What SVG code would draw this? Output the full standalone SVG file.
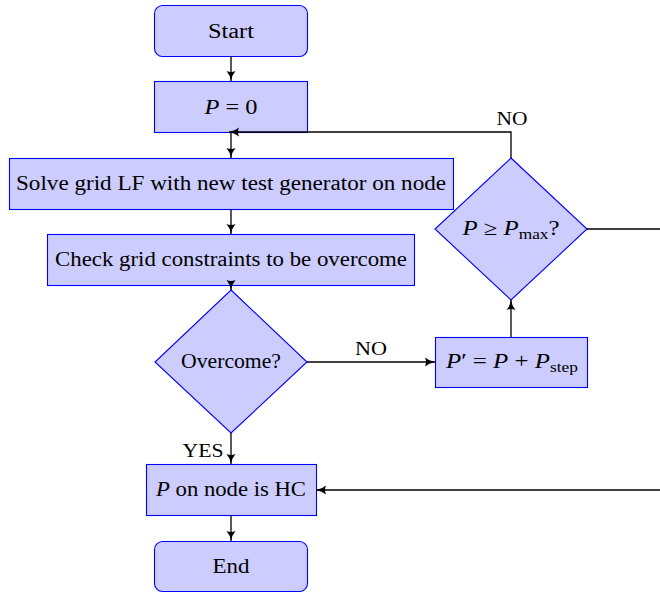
<svg xmlns="http://www.w3.org/2000/svg" width="660" height="594" viewBox="0 0 660 594">
<defs>
<style>
.n{fill:#ccccff;stroke:#0000ff;stroke-width:1.1}
.t{font-family:"Liberation Serif","DejaVu Serif",serif;font-size:20px;fill:#000;text-anchor:middle}
.i{font-style:italic}
.s{font-size:14px}
.c{fill:none;stroke:#000;stroke-width:1.3}
.l{font-family:"Liberation Serif","DejaVu Serif",serif;font-size:19px;fill:#000;text-anchor:middle}
</style>
<marker id="a" viewBox="0 0 10 10" refX="10" refY="5" markerWidth="10" markerHeight="10" markerUnits="userSpaceOnUse" orient="auto">
<path d="M0,0.5 Q4,4 10,5 Q4,6 0,9.5 Q2,5 0,0.5 Z" fill="#000"/>
</marker>
</defs>
<rect width="660" height="594" fill="#fff"/>
<g id="start">
<rect class="n" x="154.5" y="5.5" width="153" height="51" rx="8"/>
<text class="t" x="231" y="38" textLength="46" lengthAdjust="spacingAndGlyphs">Start</text>
</g>
<g id="p0">
<rect class="n" x="154.5" y="81.5" width="153" height="51"/>
<text class="t" x="231" y="114" textLength="53" lengthAdjust="spacingAndGlyphs"><tspan class="i">P</tspan> = 0</text>
</g>
<g id="solve">
<rect class="n" x="9.5" y="158.5" width="444" height="51"/>
<text class="t" x="231" y="190" textLength="430" lengthAdjust="spacingAndGlyphs">Solve grid LF with new test generator on node</text>
</g>
<g id="check">
<rect class="n" x="47.5" y="234.5" width="367" height="51"/>
<text class="t" x="231" y="266" textLength="352" lengthAdjust="spacingAndGlyphs">Check grid constraints to be overcome</text>
</g>
<g id="overcome">
<polygon class="n" points="231,290 307,362 231,433 155,362"/>
<text class="t" x="231" y="368" textLength="100" lengthAdjust="spacingAndGlyphs">Overcome?</text>
</g>
<g id="pstep">
<rect class="n" x="435.5" y="337.5" width="152" height="50"/>
<text class="t" x="512" y="368" textLength="132" lengthAdjust="spacingAndGlyphs"><tspan class="i">P</tspan>′ = <tspan class="i">P</tspan> + <tspan class="i">P</tspan><tspan class="s" dy="4">step</tspan></text>
</g>
<g id="pmax">
<polygon class="n" points="511,158 587,229 511,300 435,229"/>
<text class="t" x="511" y="235" textLength="97" lengthAdjust="spacingAndGlyphs"><tspan class="i">P</tspan> ≥ <tspan class="i">P</tspan><tspan class="s" dy="4">max</tspan><tspan dy="-4">?</tspan></text>
</g>
<g id="hc">
<rect class="n" x="146.5" y="464.5" width="170" height="51"/>
<text class="t" x="231" y="496" textLength="150" lengthAdjust="spacingAndGlyphs"><tspan class="i">P</tspan> on node is HC</text>
</g>
<g id="end">
<rect class="n" x="154.5" y="541.5" width="153" height="50" rx="8"/>
<text class="t" x="231" y="573" textLength="37" lengthAdjust="spacingAndGlyphs">End</text>
</g>
<g id="connectors">
<path class="c" d="M231,56 V81" marker-end="url(#a)"/>
<path class="c" d="M231,132 V158" marker-end="url(#a)"/>
<path class="c" d="M511,158 V132 H229" marker-end="url(#a)"/>
<path class="c" d="M231,209 V234" marker-end="url(#a)"/>
<path class="c" d="M231,285 V290" marker-end="url(#a)"/>
<path class="c" d="M307,362 H435" marker-end="url(#a)"/>
<path class="c" d="M511,337 V300" marker-end="url(#a)"/>
<path class="c" d="M587,229 H662"/>
<path class="c" d="M662,490 H316" marker-end="url(#a)"/>
<path class="c" d="M231,433 V464" marker-end="url(#a)"/>
<path class="c" d="M231,515 V541" marker-end="url(#a)"/>
<text class="l" x="371" y="355" textLength="32" lengthAdjust="spacingAndGlyphs">NO</text>
<text class="l" x="512" y="125" textLength="31" lengthAdjust="spacingAndGlyphs">NO</text>
<text class="l" x="203" y="457" textLength="41" lengthAdjust="spacingAndGlyphs">YES</text>
</g>
</svg>
